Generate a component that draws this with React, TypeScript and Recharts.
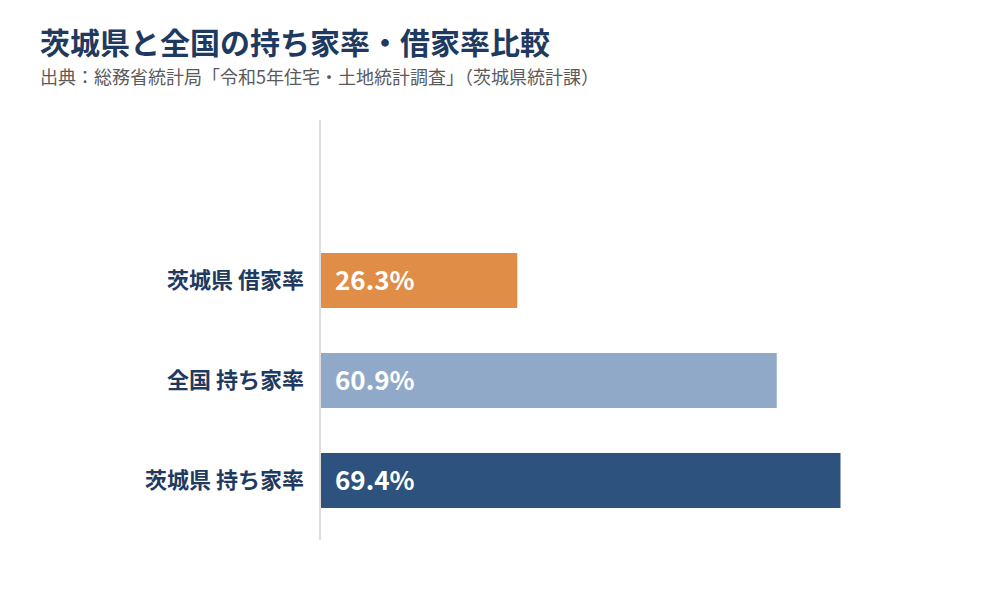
import { BarChart, Bar, XAxis, YAxis, Cell, LabelList } from 'recharts';

const CATEGORIES = ['茨城県 借家率', '全国 持ち家率', '茨城県 持ち家率'];
const VALUES = [26.3, 60.9, 69.4];
const COLORS = ['#e08e47', '#91a9c9', '#2d527e'];

const FONT = '"Noto Sans CJK JP", "Noto Sans", sans-serif';
const NAVY = '#1f3a60';

const data = CATEGORIES.map((name, i) => ({ name, value: VALUES[i] }));

export default function App() {
  return (
    <div
      style={{
        position: 'absolute',
        left: 0,
        top: 0,
        width: 1000,
        height: 600,
        background: '#fff',
        fontFamily: FONT,
      }}
    >
      <div
        style={{
          position: 'absolute',
          left: 40,
          top: 26,
          fontSize: 30,
          lineHeight: 1,
          fontWeight: 700,
          color: NAVY,
          whiteSpace: 'nowrap',
        }}
      >
        茨城県と全国の持ち家率・借家率比較
      </div>
      <div
        style={{
          position: 'absolute',
          left: 40,
          top: 67,
          fontSize: 18,
          lineHeight: 1,
          color: '#5a5a5a',
          whiteSpace: 'nowrap',
        }}
      >
        出典：総務省統計局「令和5年住宅・土地統計調査」（茨城県統計課）
      </div>
      <div style={{ position: 'absolute', left: 0, top: 0 }}>
        <BarChart
          width={1000}
          height={600}
          data={data}
          layout="vertical"
          margin={{ top: 120, right: 80, bottom: 60, left: 0 }}
        >
          <XAxis type="number" domain={[0, 80]} hide />
          <YAxis
            type="category"
            dataKey="name"
            width={320}
            padding={{ top: 110, bottom: 10 }}
            axisLine={{ stroke: '#dddddd', strokeWidth: 2 }}
            tickLine={false}
            tickMargin={10}
            tick={{ fill: NAVY, fontSize: 22, fontWeight: 700, fontFamily: FONT }}
          />
          <Bar dataKey="value" barSize={55} isAnimationActive={false}>
            {data.map((d, i) => (
              <Cell key={d.name} fill={COLORS[i]} />
            ))}
            <LabelList
              dataKey="value"
              position="insideLeft"
              offset={15}
              formatter={(v: number) => `${v.toFixed(1)}%`}
              fill="#ffffff"
              style={{ fontSize: 26, fontWeight: 700, fontFamily: FONT }}
            />
          </Bar>
        </BarChart>
      </div>
    </div>
  );
}
